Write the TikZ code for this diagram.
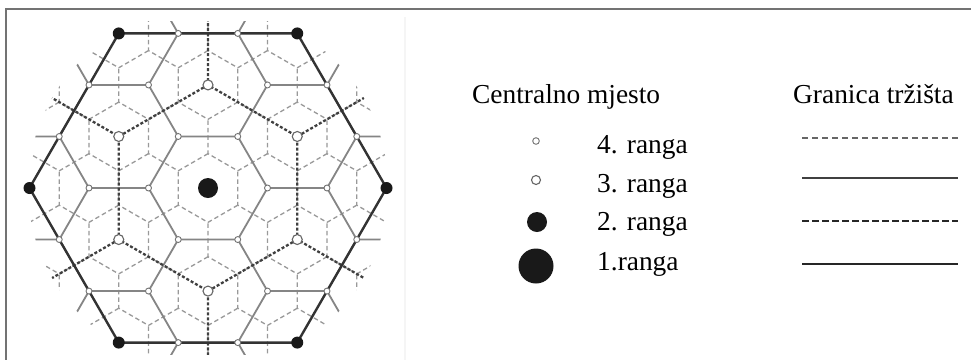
\documentclass[tikz,border=0pt]{standalone}
\usepackage{fontspec}
\setmainfont{Liberation Serif}
\begin{document}
\begin{tikzpicture}[x=1pt,y=-1pt,
  lfour/.style={draw=black!40,line width=1.3pt,dash pattern=on 4.5pt off 3pt},
  lthree/.style={draw=black!48,line width=1.8pt},
  ltwo/.style={draw=black!75,line width=2.3pt,dash pattern=on 3pt off 2pt},
  lone/.style={draw=black!80,line width=2.4pt,line join=round},
  pfour/.style={circle,draw=black!55,fill=white,line width=0.9pt,inner sep=0pt,minimum size=6pt},
  pthree/.style={circle,draw=black!60,fill=white,line width=1.1pt,inner sep=0pt,minimum size=10pt},
  ptwo/.style={circle,fill=black!90,inner sep=0pt,minimum size=12pt},
  pone/.style={circle,fill=black!90,inner sep=0pt,minimum size=20pt},
  legtext/.style={anchor=base west,inner sep=0pt,font=\fontsize{27.4}{30}\selectfont},
  gfour/.style={draw=black!60,line width=1.2pt,dash pattern=on 6pt off 4pt},
  gthree/.style={draw=black!75,line width=1.3pt},
  gtwo/.style={draw=black!85,line width=2.2pt,dash pattern=on 6.5pt off 3.5pt},
  gone/.style={draw=black!85,line width=2.6pt}
]
\useasboundingbox (0,0) rectangle (971,360);
\fill[white] (0,0) rectangle (971,360);
% frame
\draw[black!55,line width=2pt] (5,9) -- (971,9);
\draw[black!55,line width=2pt] (6,8) -- (6,360);
\draw[black!4,line width=2pt] (405,17) -- (405,360);

\def\cx{208}\def\cy{188}
\def\rA{178.5}\def\rB{103.06}\def\rC{59.5}\def\rD{34.35}\def\hh{51.53}

\begin{scope}
\clip (\cx,\cy) circle[radius=180pt];
\clip (0,21.5) rectangle (971,354.5);
% 4th rank boundaries
\foreach \i in {-7,...,7}{
  \foreach \j in {-7,...,7}{
    \pgfmathsetmacro\px{\cx+\rC*\i+0.5*\rC*\j}
    \pgfmathsetmacro\py{\cy+\hh*\j}
    \begin{scope}[shift={(\px,\py)}]
      \draw[lfour] (30:\rD) -- (90:\rD) -- (150:\rD) -- (210:\rD);
    \end{scope}
  }
}
% 3rd rank boundaries
\foreach \i in {-4,...,4}{
  \foreach \j in {-4,...,4}{
    \pgfmathsetmacro\px{\cx+89.25*\j}
    \pgfmathsetmacro\py{\cy+\rB*\i+\hh*\j}
    \begin{scope}[shift={(\px,\py)}]
      \draw[lthree] (0:\rC) -- (60:\rC) -- (120:\rC) -- (180:\rC);
    \end{scope}
  }
}
% 2nd rank boundaries
\foreach \i in {-2,...,2}{
  \foreach \j in {-2,...,2}{
    \pgfmathsetmacro\px{\cx+\rA*\i+89.25*\j}
    \pgfmathsetmacro\py{\cy+154.59*\j}
    \begin{scope}[shift={(\px,\py)}]
      \draw[ltwo] (30:\rB) -- (90:\rB) -- (150:\rB) -- (210:\rB);
    \end{scope}
  }
}
\end{scope}
% 1st rank boundary
\begin{scope}[shift={(\cx,\cy)}]
\draw[lone] (0:\rA) -- (60:\rA) -- (120:\rA) -- (180:\rA) -- (240:\rA) -- (300:\rA) -- cycle;
% 4th rank places
\foreach \x/\y [count=\k] in {-29.75/-3,29.75/-3,-59.5/-2,59.5/-2,-119/-2,119/-2,
  -29.75/-1,29.75/-1,-148.75/-1,148.75/-1,-59.5/0,59.5/0,-119/0,119/0,
  -29.75/3,29.75/3,-59.5/2,59.5/2,-119/2,119/2,-29.75/1,29.75/1,-148.75/1,148.75/1}
  \node[pfour] (f\k) at (\x,\y*\hh) {};
% 3rd rank places
\foreach \a [count=\k] in {30,90,150,210,270,330}
  \node[pthree] (t\k) at (\a:\rB) {};
% 2nd rank places
\foreach \a [count=\k] in {0,60,120,180,240,300}
  \node[ptwo] (s\k) at (\a:\rA) {};
% 1st rank place
\node[pone] (centre) at (0,0) {};
\end{scope}

% legend
\node[legtext] (hcm) at (472,103) {Centralno mjesto};
\node[legtext] (hgt) at (793,103) {Granica tržišta};
\node[legtext] (r4) at (597,153) {4. ranga};
\node[legtext] (r3) at (597,192) {3. ranga};
\node[legtext] (r2) at (597,230) {2. ranga};
\node[legtext] (r1) at (597,270) {1.ranga};
\node[pfour,minimum size=6.6pt] (lg4) at (536,141) {};
\node[pthree,minimum size=9pt] (lg3) at (536,180) {};
\node[circle,fill=black!90,inner sep=0pt,minimum size=20pt] (lg2) at (537,222) {};
\node[circle,fill=black!90,inner sep=0pt,minimum size=35pt] (lg1) at (536,266) {};
\coordinate (a4) at (802,138); \coordinate (b4) at (958,138);
\coordinate (a3) at (802,178); \coordinate (b3) at (958,178);
\coordinate (a2) at (802,221); \coordinate (b2) at (958,221);
\coordinate (a1) at (802,264); \coordinate (b1) at (958,264);
\draw[gfour] (a4) -- (b4);
\draw[gthree] (a3) -- (b3);
\draw[gtwo] (a2) -- (b2);
\draw[gone] (a1) -- (b1);
\end{tikzpicture}
\end{document}
